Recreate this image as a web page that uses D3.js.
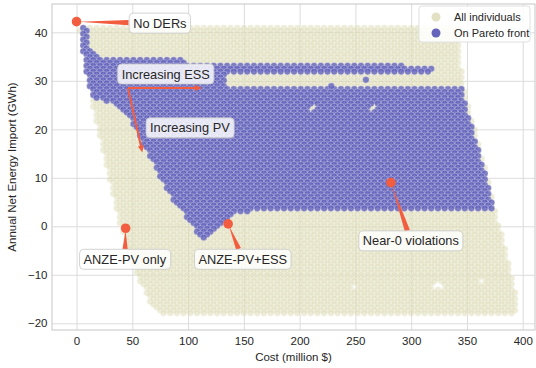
<!DOCTYPE html>
<html>
<head>
<meta charset="utf-8">
<script src="https://cdn.jsdelivr.net/npm/d3@7"></script>
<style>
  body { margin: 0; background: #fff; }
  text { font-family: "Liberation Sans", Arial, sans-serif; fill: #262626; }
</style>
</head>
<body>
<svg id="chart" width="536" height="368"></svg>
<script>
// sampling grid of the individuals (cost in million $, import in GWh)
const costStep = 6
const importStep = 0.6
const topRow = 40.9
const bottomRow = -17.9

// outline of all individuals
const allOutline = [
  [2, 41.7], [343, 40.9], [345.5, 30], [370.5, 8.7], [395.5, -16], [395, -18],
  [75, -18], [66, -15.6], [54, -10], [46, -4.9], [37, 1.9], [30, 9.5],
  [23.7, 15.7], [17.4, 21.9], [10.2, 30.2], [4.8, 36.8], [2, 41]
]

// outline of the individuals on the Pareto front
const paretoOutline = [
  [3, 41.5], [9.3, 41.3], [12, 37.1], [18.3, 35.9], [21, 34.5], [97.2, 34.5],
  [99, 33.2], [293.4, 33.2], [306, 32.6], [318.6, 32.6], [318.6, 31.6], [298.8, 31.3],
  [133, 31.3], [133, 28.7], [344.6, 28.7], [375, 3.5], [200.3, 3.5], [160, 3.3],
  [142, 2.5], [135.7, 1.1], [114.2, -3], [107, -1.2], [97.2, 2.3], [83.8, 6.5],
  [74.8, 10], [65.8, 14.3], [57.7, 17.8], [51.4, 20.5], [46, 22.5], [40.6, 24],
  [31.7, 25.2], [18.3, 26.3], [14.7, 26.8], [10.2, 30.2], [5.7, 36.3], [3, 40.5]
]
const paretoExtra = [[228.4, 28.9], [259.4, 30.2]]
const paretoGaps = [[211, 24.4], [265.7, 24.4]]
const missingPoints = [[248.7, -12.5], [324, -12.3], [361, -11.3]]

const xTicks = [0, 50, 100, 150, 200, 250, 300, 350, 400]
const yTicks = [-20, -10, 0, 10, 20, 30, 40]

// highlighted individuals and where their labels sit
const highlights = [
  {label: "No DERs", cost: 0, imp: 42.2, labelCost: 74.7, labelImp: 41.9},
  {label: "ANZE-PV only", cost: 44, imp: -0.4, labelCost: 43.3, labelImp: -6.8},
  {label: "ANZE-PV+ESS", cost: 135.9, imp: 0.5, labelCost: 149, labelImp: -6.8},
  {label: "Near-0 violations", cost: 281.8, imp: 9, labelCost: 299.7, labelImp: -3}
]
const trendLabels = [
  {label: "Increasing ESS", cost: 80, imp: 31.4},
  {label: "Increasing PV", cost: 101.6, imp: 20.3}
]
const trendArrows = [
  {from: [46.1, 28.5], to: [112.4, 28.5]},
  {from: [46.1, 28.5], to: [59, 15.2]}
]

const red = "#f25d40"
const beige = "#d4d2a2"
const purple = "#5858bb"

const svg = d3.select("#chart")
const x = d3.scaleLinear().domain([-22, 411]).range([52, 535])
const y = d3.scaleLinear().domain([-21.38, 45.84]).range([330, 4])

// grid
svg.append("g")
  .attr("transform", "translate(0,330)")
  .call(d3.axisBottom(x).tickValues(xTicks).tickSize(-326).tickPadding(7).tickFormat(d3.format("d")))
  .call(g => g.select(".domain").remove())
  .call(g => g.selectAll("line").attr("stroke", "#dcdcdc"))
  .call(g => g.selectAll("text").attr("font-size", 11.5).attr("fill", "#333"))
svg.append("g")
  .attr("transform", "translate(52,0)")
  .call(d3.axisLeft(y).tickValues(yTicks).tickSize(-483).tickPadding(4.5))
  .call(g => g.select(".domain").remove())
  .call(g => g.selectAll("line").attr("stroke", "#dcdcdc"))
  .call(g => g.selectAll("text").attr("font-size", 11.5).attr("fill", "#333"))

svg.append("rect")
  .attr("x", 52).attr("y", 4).attr("width", 483).attr("height", 326)
  .attr("fill", "none").attr("stroke", "#cfcfcf").attr("stroke-width", 1.2)

function near(list, c, v) {
  return list.some(p => Math.abs(x(p[0]) - x(c)) < 3.5 && Math.abs(y(p[1]) - y(v)) < 2)
}

const allPts = []
const paretoPts = []
for (let r = 0; topRow - r * importStep >= bottomRow - 0.01; r++) {
  const v = topRow - r * importStep
  for (let c = (r % 2) * costStep / 2; c <= 400; c += costStep) {
    if (!d3.polygonContains(allOutline, [c, v])) continue
    if (near(missingPoints, c, v)) continue
    allPts.push([c, v])
    if (d3.polygonContains(paretoOutline, [c, v]) && !near(paretoGaps, c, v)) paretoPts.push([c, v])
  }
}
paretoExtra.forEach(p => paretoPts.push(p))

svg.append("g").selectAll("circle").data(allPts).join("circle")
  .attr("cx", d => x(d[0])).attr("cy", d => y(d[1])).attr("r", 3.3)
  .attr("fill", beige).attr("fill-opacity", 0.42)
  .attr("stroke", "#fff").attr("stroke-width", 0.5).attr("stroke-opacity", 0.6)

svg.append("g").selectAll("circle").data(paretoPts).join("circle")
  .attr("cx", d => x(d[0])).attr("cy", d => y(d[1])).attr("r", 3.3)
  .attr("fill", purple).attr("fill-opacity", 0.75)
  .attr("stroke", "#fff").attr("stroke-width", 0.5).attr("stroke-opacity", 0.6)

// trend arrows
const ann = svg.append("g")
trendArrows.forEach(a => {
  const x0 = x(a.from[0]), y0 = y(a.from[1]), x1 = x(a.to[0]), y1 = y(a.to[1])
  const ang = Math.atan2(y1 - y0, x1 - x0)
  ann.append("line")
    .attr("x1", x0).attr("y1", y0)
    .attr("x2", x1 - 5 * Math.cos(ang)).attr("y2", y1 - 5 * Math.sin(ang))
    .attr("stroke", red).attr("stroke-width", 2)
  const hx = x1, hy = y1, bx = x1 - 7 * Math.cos(ang), by = y1 - 7 * Math.sin(ang)
  ann.append("path")
    .attr("d", `M${hx},${hy}L${bx - 3 * Math.sin(ang)},${by + 3 * Math.cos(ang)}L${bx + 3 * Math.sin(ang)},${by - 3 * Math.cos(ang)}Z`)
    .attr("fill", red)
})

function labelBox(g, text, cx, cy) {
  const t = g.append("text").attr("x", cx).attr("y", cy).attr("dy", "0.35em")
    .attr("text-anchor", "middle").attr("font-size", 12.8).text(text)
  const b = t.node().getBBox()
  g.insert("rect", "text")
    .attr("x", b.x - 4).attr("y", cy - 10).attr("width", b.width + 8).attr("height", 20)
    .attr("rx", 4).attr("fill", "#fff").attr("fill-opacity", 0.82)
    .attr("stroke", "#c8c8c8").attr("stroke-width", 0.8)
  return {x0: b.x - 4, x1: b.x + b.width + 4, y0: cy - 10, y1: cy + 10}
}

trendLabels.forEach(d => labelBox(ann.append("g"), d.label, x(d.cost), y(d.imp)))

highlights.forEach(d => {
  const g = ann.append("g")
  const tx = x(d.cost), ty = y(d.imp)
  const cx = x(d.labelCost), cy = y(d.labelImp)
  const box = labelBox(g, d.label, cx, cy)
  // tail of the wedge where the line to the point leaves the box
  const dx = tx - cx, dy = ty - cy
  let s = Infinity
  if (dx !== 0) s = Math.min(s, ((dx > 0 ? box.x1 : box.x0) - cx) / dx)
  if (dy !== 0) s = Math.min(s, ((dy > 0 ? box.y1 : box.y0) - cy) / dy)
  const sx = cx + dx * s * 1.02, sy = cy + dy * s * 1.02
  const len = Math.hypot(tx - sx, ty - sy)
  const ex = tx - (tx - sx) / len * 2, ey = ty - (ty - sy) / len * 2
  const nx = -(ty - sy) / len * 2.6, ny = (tx - sx) / len * 2.6
  g.insert("path", "rect")
    .attr("d", `M${sx + nx},${sy + ny}L${ex},${ey}L${sx - nx},${sy - ny}Z`)
    .attr("fill", red)
  g.append("circle").attr("cx", tx).attr("cy", ty).attr("r", 4.8).attr("fill", red)
})

// legend
const lg = svg.append("g")
lg.append("rect").attr("x", 419).attr("y", 6).attr("width", 111).attr("height", 36)
  .attr("rx", 3).attr("fill", "#fff").attr("fill-opacity", 0.85).attr("stroke", "#e0e0e0")
lg.append("circle").attr("cx", 436).attr("cy", 17).attr("r", 4.5).attr("fill", "#e2e1c4")
lg.append("circle").attr("cx", 436).attr("cy", 33).attr("r", 4.5).attr("fill", "#6464bd")
lg.append("text").attr("x", 454).attr("y", 17).attr("dy", "0.35em").attr("font-size", 11).text("All individuals")
lg.append("text").attr("x", 454).attr("y", 33).attr("dy", "0.35em").attr("font-size", 11).text("On Pareto front")

// axis titles
svg.append("text").attr("x", 293.5).attr("y", 357).attr("dy", "0.35em")
  .attr("text-anchor", "middle").attr("font-size", 11.5).text("Cost (million $)")
svg.append("text").attr("transform", "translate(12,167) rotate(-90)").attr("dy", "0.35em")
  .attr("text-anchor", "middle").attr("font-size", 11.5).text("Annual Net Energy Import (GWh)")
</script>
</body>
</html>
